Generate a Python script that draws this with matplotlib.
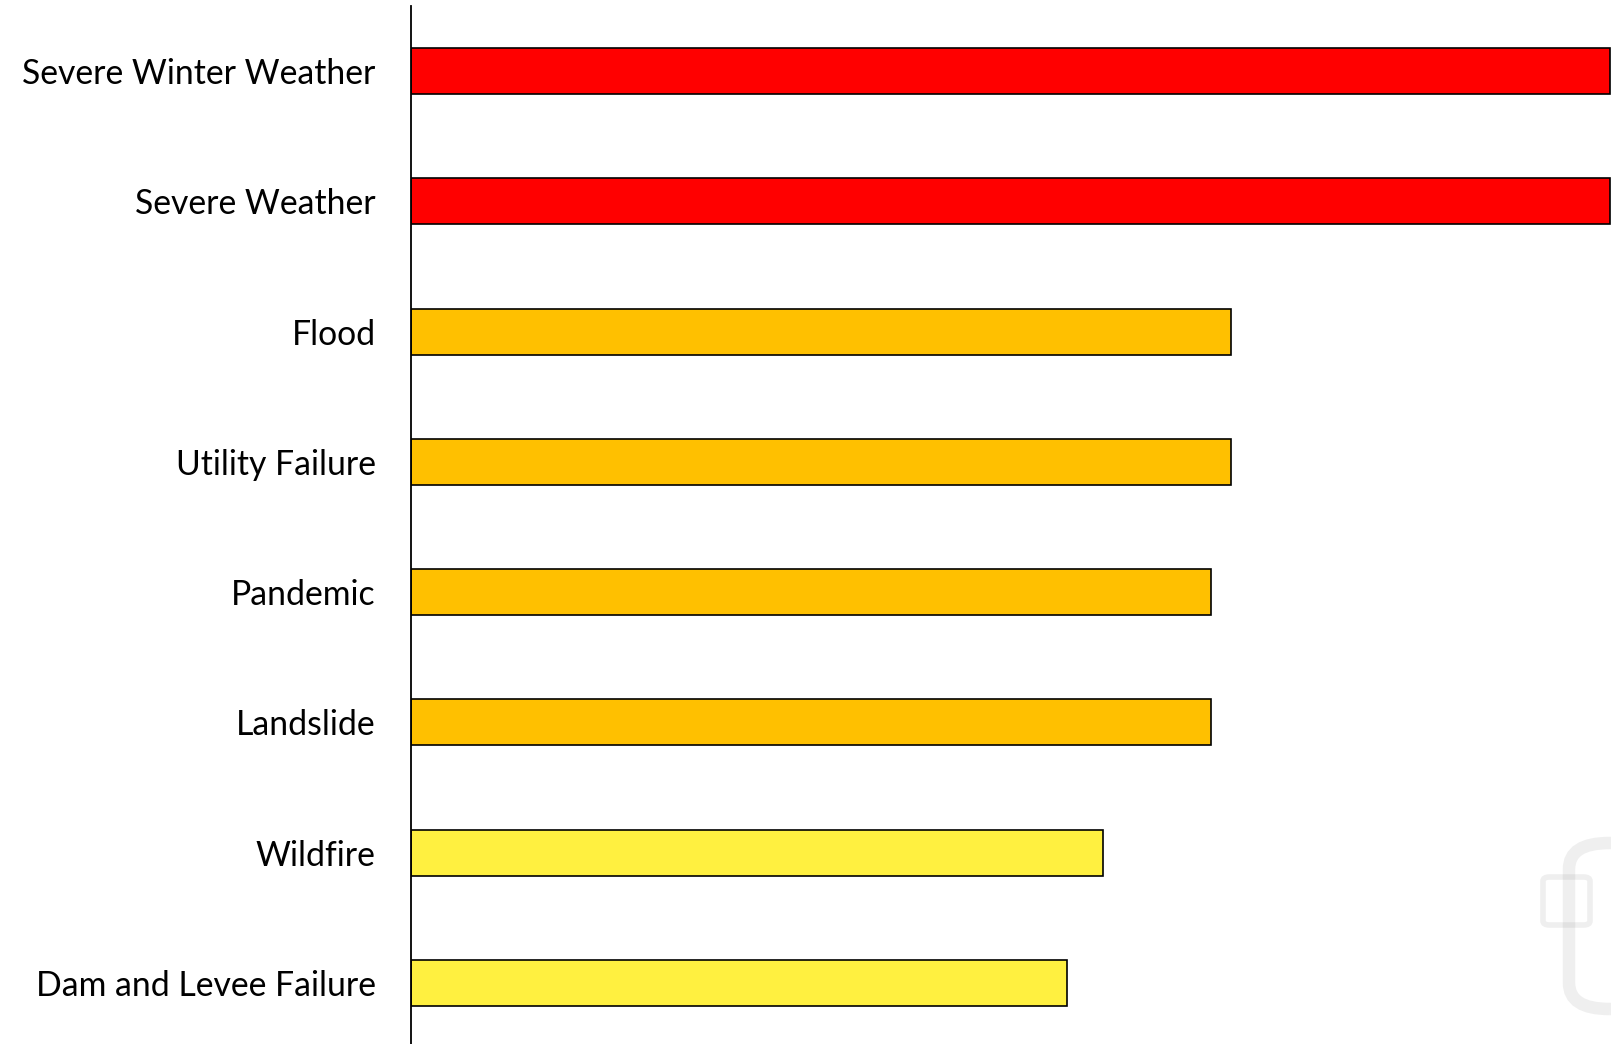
import matplotlib.pyplot as plt
from matplotlib.patches import FancyBboxPatch

# hazard ranking, top to bottom
hazards = ["Severe Winter Weather", "Severe Weather", "Flood", "Utility Failure",
           "Pandemic", "Landslide", "Wildfire", "Dam and Levee Failure"]
scores = [3.0, 3.0, 2.05, 2.05, 2.0, 2.0, 1.73, 1.64]
levels = ["high", "high", "medium", "medium", "medium", "medium", "low", "low"]

level_colors = {"high": "#FF0000", "medium": "#FFC000", "low": "#FFF040"}

W, H = 1611, 1044
fig = plt.figure(figsize=(W / 100, H / 100), dpi=100)

# axes placed in pixel terms: left spine at x=411, category step ~130 px
left, right = 411, 1611
top, bottom = 6, 1048
ax = fig.add_axes([left / W, (H - bottom) / H, (right - left) / W, (bottom - top) / H])

ypos = list(range(len(hazards)))
ax.barh(ypos, scores, height=0.353, color=[level_colors[l] for l in levels],
        edgecolor="black", linewidth=1.2)

ax.set_ylim(len(hazards) - 0.5, -0.5)
ax.set_xlim(0, 3.0015)
ax.set_yticks(ypos)
ax.set_yticklabels(hazards, fontsize=24.3, family=["Lato", "DejaVu Sans"])
ax.tick_params(axis="y", length=0, pad=25.5)
ax.set_xticks([])
for side in ["top", "right", "bottom"]:
    ax.spines[side].set_visible(False)
ax.spines["left"].set_linewidth(1.3)

# faint watermark icon in the bottom-right corner
def px_box(x0, y0, x1, y1, lw, r):
    return FancyBboxPatch((x0 / W, 1 - y1 / H), (x1 - x0) / W, (y1 - y0) / H,
                          boxstyle=f"round,pad=0,rounding_size={r / W}",
                          transform=fig.transFigure, fill=False,
                          edgecolor="#909090", alpha=0.14, linewidth=lw)

fig.patches.append(px_box(1569, 843, 1660, 1009, 9, 0.025 * W))
fig.patches.append(px_box(1543, 877, 1590, 925, 4, 0.004 * W))

fig.savefig("out.png", dpi=100, facecolor="white")
